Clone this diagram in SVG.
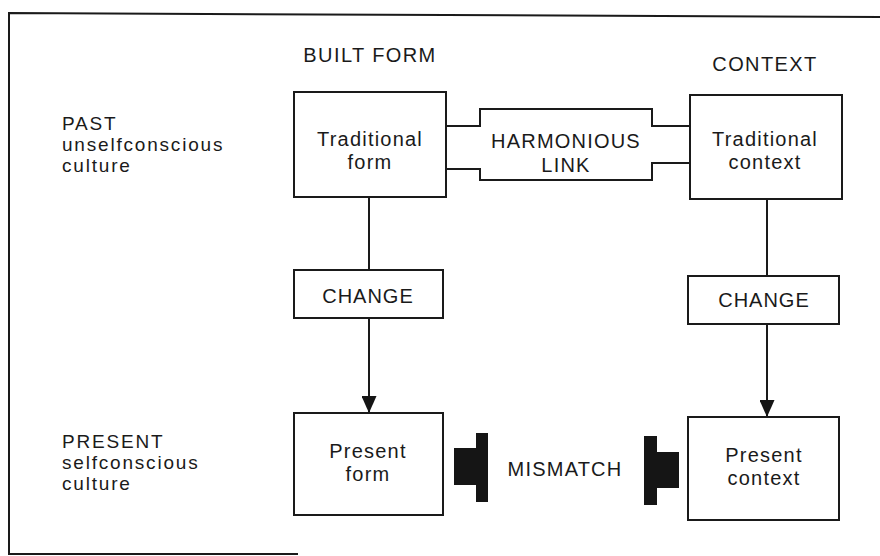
<svg xmlns="http://www.w3.org/2000/svg" width="880" height="556" viewBox="0 0 880 556">
<defs>
<style>
.t{font-family:"Liberation Sans",Arial,sans-serif;font-size:20px;fill:#1a1a1a;letter-spacing:1.2px;text-anchor:middle}
.l{font-family:"Liberation Sans",Arial,sans-serif;font-size:19px;fill:#1a1a1a;letter-spacing:1.8px}
.b{fill:#fff;stroke:#1a1a1a;stroke-width:2}
.c{fill:none;stroke:#1a1a1a;stroke-width:2}
.blk{fill:#151515}
</style>
<marker id="ah" markerWidth="18" markerHeight="15" refX="17" refY="7.5" orient="auto" markerUnits="userSpaceOnUse">
<path d="M0,0 L17,7.5 L0,15 Z" fill="#151515"/>
</marker>
</defs>
<rect width="880" height="556" fill="#fff"/>
<g id="frame" class="c">
<polyline points="298,554 9,554 9,13 880,17"/>
</g>
<g id="headers">
<text class="t" x="370" y="62" style="letter-spacing:1.4px">BUILT FORM</text>
<text class="t" x="765" y="71" style="letter-spacing:1.4px">CONTEXT</text>
</g>
<g id="row-labels">
<text class="l" x="62" y="130">PAST</text>
<text class="l" x="62" y="151">unselfconscious</text>
<text class="l" x="62" y="172">culture</text>
<text class="l" x="62" y="448">PRESENT</text>
<text class="l" x="62" y="469">selfconscious</text>
<text class="l" x="62" y="490">culture</text>
</g>
<g id="connectors">
<path class="c" d="M446,126 H480 V109 H652 V126 H690"/>
<path class="c" d="M446,169 H480 V180 H652 V163 H690"/>
<line class="c" x1="369" y1="197" x2="369" y2="270"/>
<line class="c" x1="369" y1="318" x2="369" y2="413" marker-end="url(#ah)"/>
<line class="c" x1="767" y1="199" x2="767" y2="276"/>
<line class="c" x1="767" y1="324" x2="767" y2="417" marker-end="url(#ah)"/>
</g>
<g id="harmonious-link">
<text class="t" x="566" y="148">HARMONIOUS</text>
<text class="t" x="566" y="172">LINK</text>
</g>
<g id="traditional-form">
<rect class="b" x="294" y="92" width="152" height="105"/>
<text class="t" x="370" y="146">Traditional</text>
<text class="t" x="370" y="169">form</text>
</g>
<g id="traditional-context">
<rect class="b" x="690" y="95" width="152" height="104"/>
<text class="t" x="765" y="146">Traditional</text>
<text class="t" x="765" y="169">context</text>
</g>
<g id="change-form">
<rect class="b" x="294" y="270" width="149" height="48"/>
<text class="t" x="368" y="303" style="letter-spacing:1px">CHANGE</text>
</g>
<g id="change-context">
<rect class="b" x="688" y="276" width="151" height="48"/>
<text class="t" x="764" y="307" style="letter-spacing:1px">CHANGE</text>
</g>
<g id="present-form">
<rect class="b" x="294" y="413" width="149" height="102"/>
<text class="t" x="368" y="458">Present</text>
<text class="t" x="368" y="481">form</text>
</g>
<g id="present-context">
<rect class="b" x="688" y="417" width="151" height="103"/>
<text class="t" x="764" y="462">Present</text>
<text class="t" x="764" y="485">context</text>
</g>
<g id="mismatch">
<path class="blk" d="M454,448 H476 V433 H488 V502 H476 V485 H454 Z"/>
<path class="blk" d="M644,436 H657 V452 H679 V488 H657 V505 H644 Z"/>
<text class="t" x="565" y="476">MISMATCH</text>
</g>
</svg>
